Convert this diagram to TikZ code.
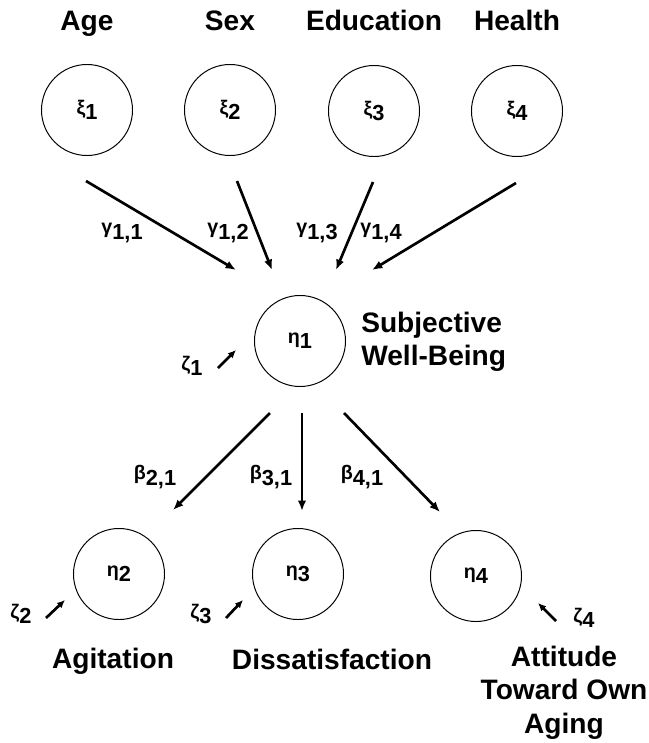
\documentclass[tikz,border=0pt]{standalone}
\usepackage{fontspec}
\setmainfont{Liberation Sans}
\usetikzlibrary{arrows.meta}

\newcommand{\gsub}[2]{{\fontsize{14}{16}\selectfont #1}\raisebox{-0.24em}{#2}}

\begin{document}
\begin{tikzpicture}[x=0.025cm, y=-0.025cm,
  latent/.style={circle, draw=black, line width=0.7pt, minimum size=2.275cm,
    inner sep=0pt, font=\bfseries\fontsize{15.5}{17}\selectfont},
  varname/.style={font=\bfseries\fontsize{20}{23.7}\selectfont, inner sep=0pt},
  coef/.style={font=\bfseries\fontsize{15.5}{17}\selectfont, inner sep=0pt},
  arrow/.style={-{Latex[length=2.6mm, width=2.1mm]}, line width=1.9pt},
  errarrow/.style={-{Latex[length=2mm, width=1.8mm]}, line width=1.9pt}
]
\useasboundingbox (0,0) rectangle (649,743);

% exogenous variables
\node[varname, anchor=base] (age) at (87,30) {Age};
\node[varname, anchor=base] (sex) at (230,30) {Sex};
\node[varname, anchor=base] (edu) at (374,30) {Education};
\node[varname, anchor=base] (health) at (517,30) {Health};
\node[latent] (xi1) at (87,110) {\gsub{ξ}{1}};
\node[latent] (xi2) at (230,110) {\gsub{ξ}{2}};
\node[latent] (xi3) at (374,111) {\gsub{ξ}{3}};
\node[latent] (xi4) at (517,111) {\gsub{ξ}{4}};

% endogenous variables
\node[latent] (eta1) at (300,341) {\gsub{η}{1}};
\node[latent] (eta2) at (119,574) {\gsub{η}{2}};
\node[latent] (eta3) at (298,574) {\gsub{η}{3}};
\node[latent] (eta4) at (476,576) {\gsub{η}{4}};
\node[varname, anchor=north west, align=left] (swb) at (361,312) {Subjective\\Well-Being};
\node[varname, anchor=base] (agit) at (113,668) {Agitation};
\node[varname, anchor=base] (diss) at (332,669) {Dissatisfaction};
\node[varname, anchor=north, align=center] (atti) at (564,646) {Attitude\\Toward Own\\Aging};

% gamma paths
\coordinate (g11s) at (86,181);  \coordinate (g11e) at (236,270);
\coordinate (g12s) at (237,181); \coordinate (g12e) at (272,270);
\coordinate (g13s) at (373,182); \coordinate (g13e) at (336,270);
\coordinate (g14s) at (516,183); \coordinate (g14e) at (372,270);
\draw[arrow] (g11s) -- (g11e);
\draw[arrow] (g12s) -- (g12e);
\draw[arrow] (g13s) -- (g13e);
\draw[arrow] (g14s) -- (g14e);
\node[coef] (g11) at (122,233) {\gsub{γ}{1,1}};
\node[coef] (g12) at (228,233) {\gsub{γ}{1,2}};
\node[coef] (g13) at (317,233) {\gsub{γ}{1,3}};
\node[coef] (g14) at (381,233) {\gsub{γ}{1,4}};

% beta paths
\coordinate (b21s) at (270,413); \coordinate (b21e) at (173,510);
\coordinate (b31s) at (302,413); \coordinate (b31e) at (302,511);
\coordinate (b41s) at (344,413); \coordinate (b41e) at (440,512);
\draw[arrow] (b21s) -- (b21e);
\draw[arrow] (b31s) -- (b31e);
\draw[arrow] (b41s) -- (b41e);
\node[coef] (b21) at (155,477) {\gsub{β}{2,1}};
\node[coef] (b31) at (271,477) {\gsub{β}{3,1}};
\node[coef] (b41) at (362,477) {\gsub{β}{4,1}};

% disturbances
\coordinate (z1s) at (218,368); \coordinate (z1e) at (236,350);
\coordinate (z2s) at (46,618);  \coordinate (z2e) at (65,600);
\coordinate (z3s) at (226,618); \coordinate (z3e) at (243,600);
\coordinate (z4s) at (556,621); \coordinate (z4e) at (538,603);
\draw[errarrow] (z1s) -- (z1e);
\draw[errarrow] (z2s) -- (z2e);
\draw[errarrow] (z3s) -- (z3e);
\draw[errarrow] (z4s) -- (z4e);
\node[coef] (z1) at (192,366) {\gsub{ζ}{1}};
\node[coef] (z2) at (21,614) {\gsub{ζ}{2}};
\node[coef] (z3) at (201,614) {\gsub{ζ}{3}};
\node[coef] (z4) at (584,618) {\gsub{ζ}{4}};
\end{tikzpicture}
\end{document}
